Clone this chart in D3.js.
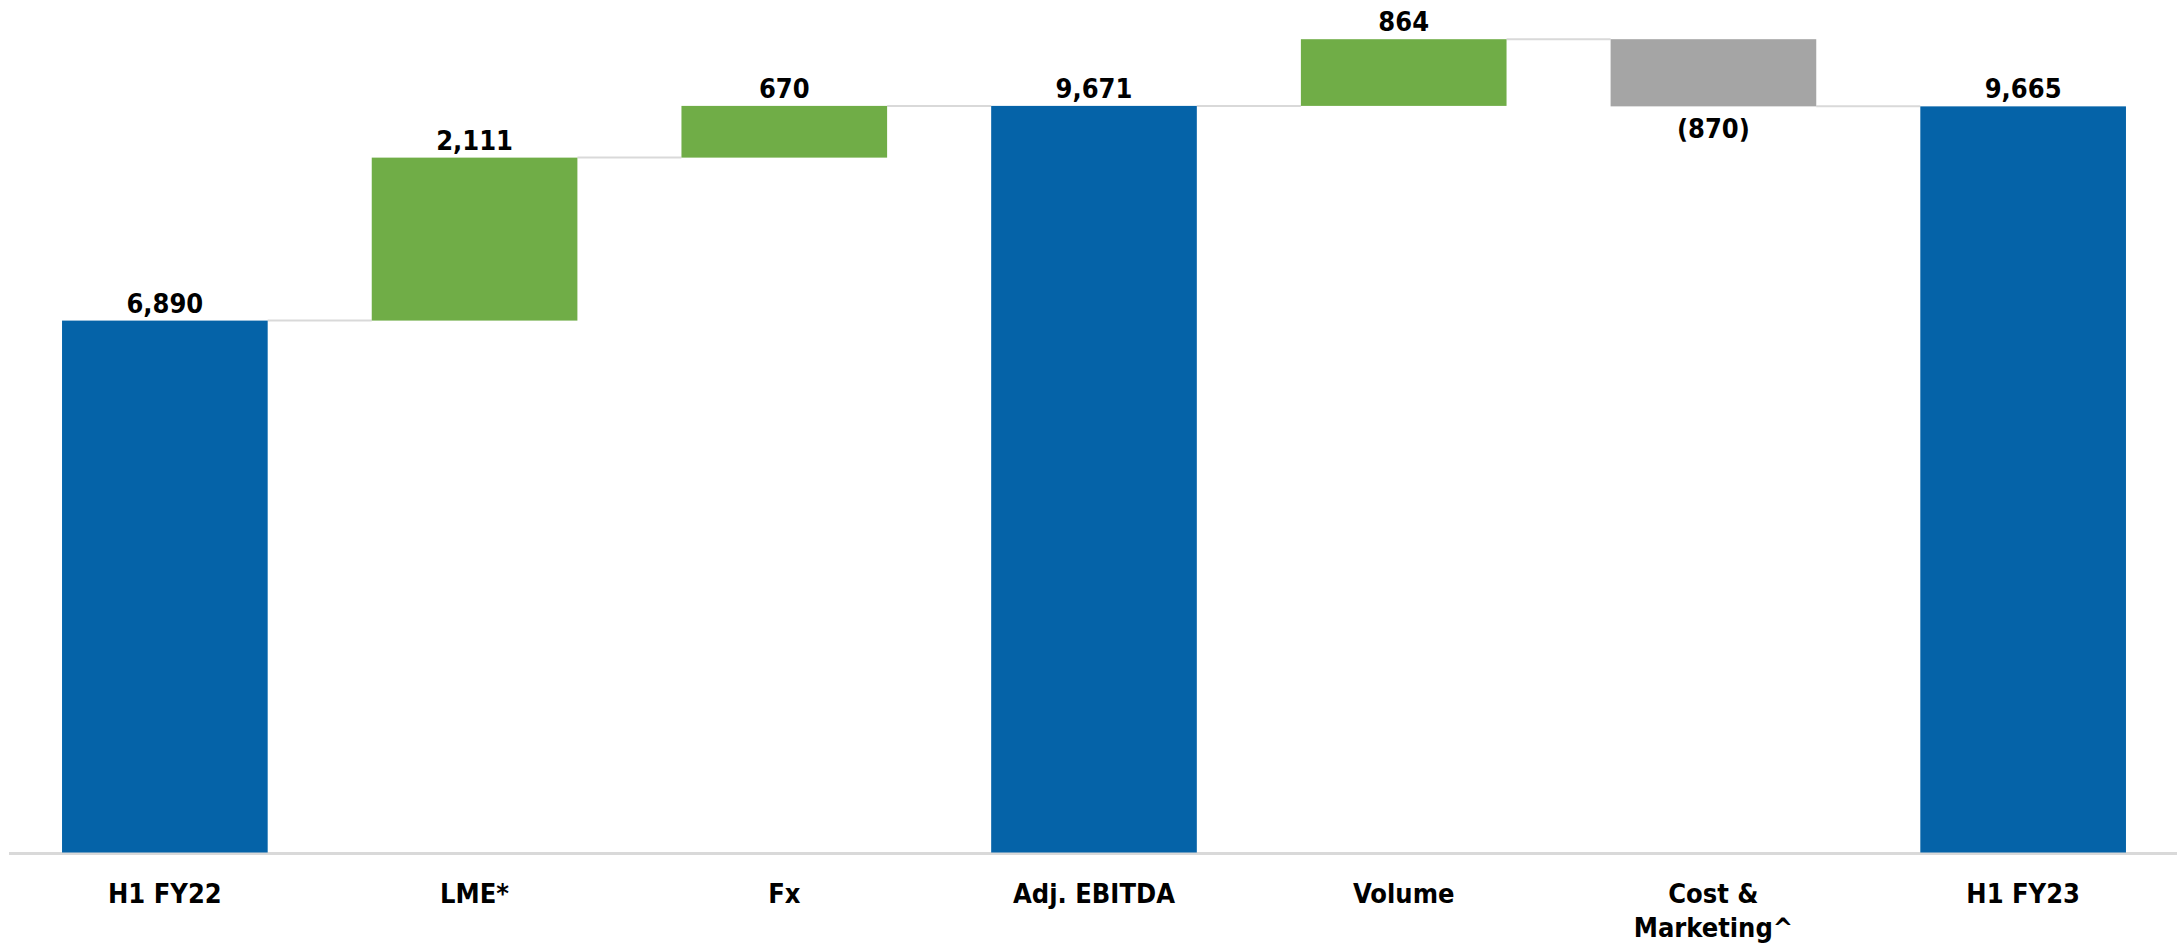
<!DOCTYPE html>
<html>
<head>
<meta charset="utf-8">
<script src="https://cdn.jsdelivr.net/npm/d3@7"></script>
<style>
  body { margin: 0; background: #fff; }
  svg text { font-family: "Liberation Sans Narrow", "DejaVu Sans Condensed", "Open Sans", sans-serif; font-weight: bold; fill: #000; }
</style>
</head>
<body>
<svg width="2177" height="949"></svg>
<script>
var svg = d3.select("svg");

//==================================================
//Data

var categories = ["H1 FY22", "LME*", "Fx", "Adj. EBITDA", "Volume", "Cost & Marketing^", "H1 FY23"];
var values = [6890, 2111, 670, 9671, 864, -870, 9665];
var kinds = ["total", "delta", "delta", "total", "delta", "delta", "total"];

var colors = { total: "#0563a8", up: "#70ad47", down: "#a5a5a5" };

//==================================================
//Running totals -> start/end per bar

var bars = [];
var running = 0;
categories.forEach(function(c, i) {
    var start, end;
    if (kinds[i] == "total") {
        start = 0; end = values[i]; running = values[i];
    } else {
        start = running; end = running + values[i]; running = end;
    }
    bars.push({ cat: c, value: values[i], kind: kinds[i], start: start, end: end });
});

//==================================================
//Scales

var x = d3.scaleBand()
    .domain(categories)
    .range([10, 2178])
    .paddingInner(0.336)
    .paddingOuter(0.168);

var y = d3.scaleLinear()
    .domain([0, 11000])
    .range([852.5, 3.3]);

var fmt = d3.format(",");
var label = function(v) { return v < 0 ? "(" + fmt(-v) + ")" : fmt(v); };

//==================================================
//Baseline axis

svg.append("line")
    .attr("x1", 9).attr("x2", 2177)
    .attr("y1", y(0) + 1).attr("y2", y(0) + 1)
    .attr("stroke", "#d9d9d9")
    .attr("stroke-width", 3);

//connector lines between bars
for (var i = 0; i < bars.length - 1; i++) {
    svg.append("line")
        .attr("x1", x(bars[i].cat) + x.bandwidth())
        .attr("x2", x(bars[i + 1].cat))
        .attr("y1", y(bars[i].end))
        .attr("y2", y(bars[i].end))
        .attr("stroke", "#d9d9d9")
        .attr("stroke-width", 2);
}

//bars
svg.append("g").selectAll("rect")
    .data(bars)
    .enter().append("rect")
    .attr("x", function(d) { return x(d.cat); })
    .attr("width", x.bandwidth())
    .attr("y", function(d) { return y(Math.max(d.start, d.end)); })
    .attr("height", function(d) { return Math.abs(y(d.start) - y(d.end)); })
    .attr("fill", function(d) {
        if (d.kind == "total") return colors.total;
        return d.value < 0 ? colors.down : colors.up;
    });

//value labels: above for totals/ups, below for downs
svg.append("g").selectAll("text")
    .data(bars)
    .enter().append("text")
    .attr("x", function(d) { return x(d.cat) + x.bandwidth() / 2; })
    .attr("y", function(d) {
        if (d.value < 0) return y(Math.min(d.start, d.end)) + 32;
        return y(Math.max(d.start, d.end)) - 8;
    })
    .attr("text-anchor", "middle")
    .attr("font-size", 27)
    .text(function(d) { return label(d.value); });

//category labels, wrapped on width
var cats = svg.append("g").selectAll("text")
    .data(categories)
    .enter().append("text")
    .attr("text-anchor", "middle")
    .attr("font-size", 27)
    .attr("x", function(d) { return x(d) + x.bandwidth() / 2; })
    .attr("y", 903);

cats.each(function(d) {
    var el = d3.select(this);
    var words = d.split(" ");
    var lines = d.length > 12 ? [words.slice(0, 2).join(" "), words.slice(2).join(" ")] : [d];
    lines.forEach(function(l, k) {
        el.append("tspan")
            .attr("x", x(d) + x.bandwidth() / 2)
            .attr("dy", k == 0 ? 0 : 34)
            .text(l);
    });
});
</script>
</body>
</html>
